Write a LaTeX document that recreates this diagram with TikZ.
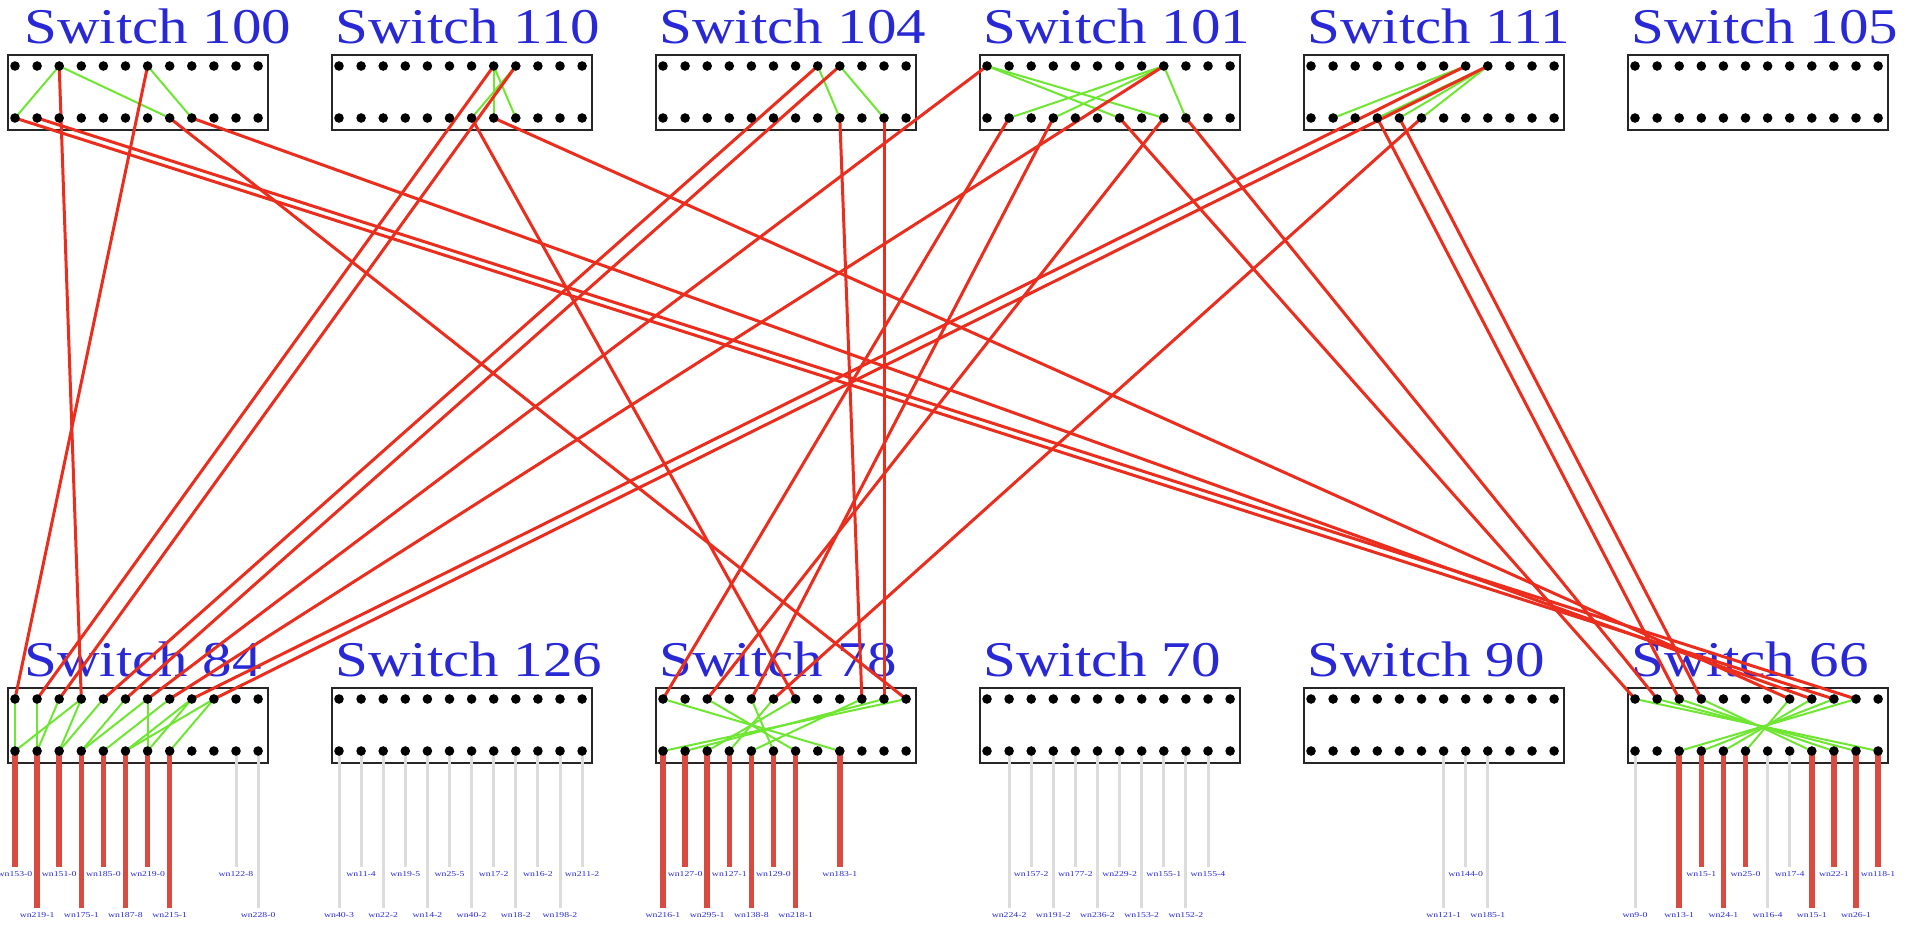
\documentclass[tikz,border=0pt]{standalone}
\usepackage{fontspec}
\setmainfont{Liberation Serif}
\definecolor{swblue}{RGB}{40,40,215}
\definecolor{wirered}{RGB}{235,45,30}
\definecolor{patchgreen}{RGB}{110,230,50}
\definecolor{leadred}{RGB}{215,75,65}
\definecolor{leadgray}{RGB}{220,220,220}
\begin{document}
\begin{tikzpicture}[x=1pt,y=-1pt,
  swbox/.style={draw=black!85,line width=2.2pt,fill=white},
  swlabel/.style={anchor=base west,text=swblue,font=\fontsize{50}{50}\selectfont,xscale=1.18,inner sep=0pt},
  patch/.style={patchgreen,line width=2pt},
  wire/.style={wirered,line width=3pt},
  leadon/.style={leadred,line width=5.5pt},
  leadoff/.style={leadgray,line width=3pt},
  leadlabel/.style={text=swblue,font=\fontsize{7.5}{7.5}\selectfont,xscale=1.3,inner sep=0pt,anchor=north}]

\useasboundingbox (0,0) rectangle (1911,929);

% switches: name/number/left/top/label offset, twelve ports per row
\foreach \sw/\num/\xx/\yy/\dx in {s100/100/8/55/16,s110/110/332/55/3,s104/104/656/55/3,s101/101/980/55/3,s111/111/1304/55/3,s105/105/1628/55/3,
    s84/84/8/688/16,s126/126/332/688/3,s78/78/656/688/3,s70/70/980/688/3,s90/90/1304/688/3,s66/66/1628/688/3}{
  \draw[swbox] (\xx,\yy) rectangle ++(260,75);
  \node[swlabel] (\sw) at (\xx+\dx,\yy-12) {Switch \num};
  \foreach \p in {0,...,11}{
    \coordinate (\sw-t\p) at ({\xx+7+22.1*\p},{\yy+11});
    \coordinate (\sw-b\p) at ({\xx+7+22.1*\p},{\yy+63});
  }
}

% host leads under the lower switches (116 = short, 157 = long)
\foreach \sw/\p/\len/\kind/\txt in {
    s84/0/116/on/wn153-0, s84/1/157/on/wn219-1, s84/2/116/on/wn151-0, s84/3/157/on/wn175-1,
    s84/4/116/on/wn185-0, s84/5/157/on/wn187-8, s84/6/116/on/wn219-0, s84/7/157/on/wn215-1,
    s84/10/116/off/wn122-8, s84/11/157/off/wn228-0,
    s126/0/157/off/wn40-3, s126/1/116/off/wn11-4, s126/2/157/off/wn22-2, s126/3/116/off/wn19-5,
    s126/4/157/off/wn14-2, s126/5/116/off/wn25-5, s126/6/157/off/wn40-2, s126/7/116/off/wn17-2,
    s126/8/157/off/wn18-2, s126/9/116/off/wn16-2, s126/10/157/off/wn198-2, s126/11/116/off/wn211-2,
    s78/0/157/on/wn216-1, s78/1/116/on/wn127-0, s78/2/157/on/wn295-1, s78/3/116/on/wn127-1,
    s78/4/157/on/wn138-8, s78/5/116/on/wn129-0, s78/6/157/on/wn218-1, s78/8/116/on/wn183-1,
    s70/1/157/off/wn224-2, s70/2/116/off/wn157-2, s70/3/157/off/wn191-2, s70/4/116/off/wn177-2,
    s70/5/157/off/wn236-2, s70/6/116/off/wn229-2, s70/7/157/off/wn153-2, s70/8/116/off/wn155-1,
    s70/9/157/off/wn152-2, s70/10/116/off/wn155-4,
    s90/6/157/off/wn121-1, s90/7/116/off/wn144-0, s90/8/157/off/wn185-1,
    s66/0/157/off/wn9-0, s66/2/157/on/wn13-1, s66/3/116/on/wn15-1, s66/4/157/on/wn24-1,
    s66/5/116/on/wn25-0, s66/6/157/off/wn16-4, s66/7/116/off/wn17-4, s66/8/157/on/wn15-1,
    s66/9/116/on/wn22-1, s66/10/157/on/wn26-1, s66/11/116/on/wn118-1}{
  \coordinate (\sw-e\p) at ([yshift=-\len pt]\sw-b\p);
  \draw[lead\kind] (\sw-b\p) -- (\sw-e\p);
  \node[leadlabel] (\sw-n\p) at ([yshift=-4pt]\sw-e\p) {\txt};
}

% patches inside each switch
\foreach \sw/\a/\b in {s100/2/0, s100/2/7, s100/6/8,
    s110/7/7, s110/7/8, s110/8/6,
    s104/7/8, s104/8/10,
    s101/0/6, s101/0/8, s101/8/1, s101/8/3, s101/8/9,
    s111/7/1, s111/8/3, s111/8/4, s111/8/5,
    s84/0/0, s84/1/1, s84/2/1, s84/3/0, s84/3/2, s84/4/2, s84/5/3, s84/6/3,
    s84/6/6, s84/7/4, s84/8/5, s84/8/6, s84/9/7, s84/9/5,
    s78/0/8, s78/2/6, s78/4/5, s78/5/3, s78/6/2, s78/9/4, s78/10/1, s78/11/0,
    s66/0/11, s66/1/10, s66/2/9, s66/3/8, s66/7/5, s66/8/4, s66/9/3, s66/10/2}{
  \draw[patch] (\sw-t\a) -- (\sw-b\b);
}

% uplinks between the two rows of switches
\foreach \from/\to in {s100-t6/s84-t0, s110-t7/s84-t1, s110-t8/s84-t2, s100-t2/s84-t3,
    s104-t7/s84-t4, s104-t8/s84-t5, s101-t0/s84-t6, s101-t8/s84-t7, s111-t7/s84-t8, s111-t8/s84-t9,
    s101-b1/s78-t0, s101-b8/s78-t2, s101-b3/s78-t4, s111-b5/s78-t5, s110-b6/s78-t6,
    s104-b8/s78-t9, s104-b10/s78-t10, s100-b7/s78-t11,
    s101-b6/s66-t0, s101-b9/s66-t1, s111-b3/s66-t2, s111-b4/s66-t3,
    s110-b7/s66-t7, s100-b8/s66-t8, s100-b0/s66-t9, s100-b1/s66-t10}{
  \draw[wire] (\from) -- (\to);
}

% port dots on top
\foreach \sw in {s100,s110,s104,s101,s111,s105,s84,s126,s78,s70,s90,s66}{
  \foreach \p in {0,...,11}{
    \fill (\sw-t\p) circle (4.8pt);
    \fill (\sw-b\p) circle (4.8pt);
  }
}
\end{tikzpicture}
\end{document}
